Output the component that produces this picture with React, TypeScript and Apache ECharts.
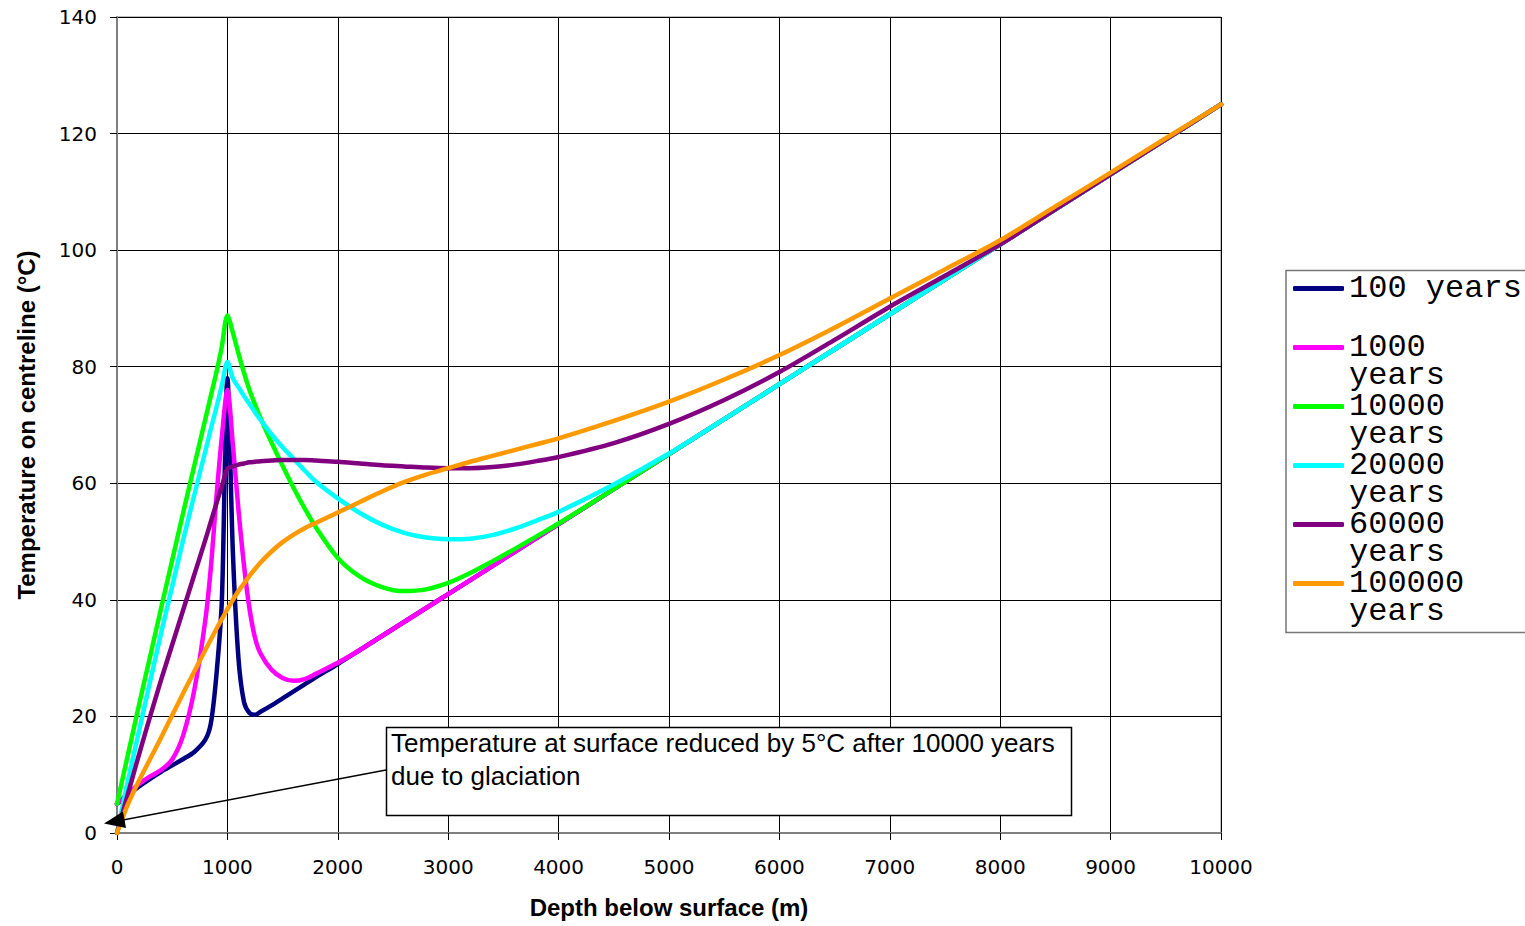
import React, { useEffect, useRef } from 'react';
import * as echarts from 'echarts';

// Depth below surface (m)
const depth = [0, 100, 200, 300, 400, 500, 600, 700, 800, 850, 900, 950, 1000, 1050, 1100, 1150, 1200, 1250, 1300, 1400, 1500, 1600, 1700, 1800, 2000, 2200, 2400, 2600, 2800, 3000, 3200, 3400, 3600, 3800, 4000, 4500, 5000, 5500, 6000, 6500, 7000, 7500, 8000, 8500, 9000, 9500, 10000];

// Temperature on centreline (°C)
const years100 = [5.0, 6.5, 8.0, 9.3, 10.5, 11.6, 12.7, 13.9, 16.0, 18.8, 27.0, 40.0, 78.0, 48.0, 30.0, 22.5, 20.6, 20.3, 20.8, 21.9, 23.1, 24.3, 25.5, 26.7, 29.0, 31.4, 33.8, 36.2, 38.6, 41.0, 43.4, 45.8, 48.2, 50.6, 53.0, 59.0, 65.0, 71.0, 77.0, 83.0, 89.0, 95.0, 101.0, 107.0, 113.0, 119.0, 125.0];
const years1000 = [5.0, 6.8, 8.4, 9.7, 10.8, 12.6, 16.8, 24.5, 36.5, 45.5, 57.5, 68.0, 76.0, 66.5, 55.5, 46.0, 38.5, 33.5, 30.8, 28.0, 26.6, 26.1, 26.4, 27.3, 29.2, 31.4, 33.8, 36.2, 38.6, 41.0, 43.4, 45.8, 48.2, 50.6, 53.0, 59.0, 65.0, 71.0, 77.0, 83.0, 89.0, 95.0, 101.0, 107.0, 113.0, 119.0, 125.0];
const years10000 = [5.0, 13.5, 22.0, 30.3, 38.6, 46.8, 55.0, 63.0, 71.0, 75.0, 79.0, 83.5, 88.8, 85.8, 82.3, 79.0, 76.0, 73.5, 71.2, 67.0, 63.0, 59.2, 55.7, 52.5, 47.2, 44.0, 42.2, 41.5, 41.8, 42.9, 44.6, 46.6, 48.7, 50.9, 53.1, 59.0, 65.0, 71.0, 77.0, 83.0, 89.0, 95.0, 101.0, 107.0, 113.0, 119.0, 125.0];
const years20000 = [0.0, 9.0, 17.5, 26.0, 34.3, 42.3, 50.3, 58.0, 65.5, 69.3, 73.0, 76.8, 80.8, 78.0, 76.5, 75.0, 73.6, 72.2, 70.9, 68.4, 66.2, 64.2, 62.2, 60.3, 57.4, 54.9, 52.9, 51.5, 50.7, 50.4, 50.5, 51.1, 52.2, 53.6, 55.1, 59.8, 65.1, 71.0, 77.0, 83.0, 89.0, 95.0, 101.0, 107.0, 113.0, 119.0, 125.0];
const years60000 = [0.0, 6.8, 13.5, 20.0, 26.3, 32.3, 38.3, 44.3, 50.3, 53.4, 56.5, 59.5, 62.5, 62.9, 63.2, 63.4, 63.6, 63.7, 63.8, 63.9, 64.0, 64.0, 64.0, 63.9, 63.7, 63.4, 63.1, 62.9, 62.7, 62.6, 62.6, 62.8, 63.2, 63.8, 64.5, 66.9, 70.2, 74.3, 79.1, 84.6, 90.3, 95.6, 101.0, 107.0, 113.0, 119.0, 125.0];
const years100000 = [0.0, 5.0, 9.0, 12.7, 16.4, 20.2, 24.0, 27.7, 31.4, 33.2, 35.0, 36.7, 38.4, 40.0, 41.5, 42.8, 44.1, 45.3, 46.4, 48.3, 49.9, 51.2, 52.3, 53.2, 55.0, 56.8, 58.6, 60.2, 61.5, 62.6, 63.7, 64.7, 65.7, 66.7, 67.7, 70.7, 74.0, 77.8, 82.0, 86.7, 91.7, 96.7, 101.7, 107.5, 113.3, 119.2, 125.0];

const seriesNames = ['100 years', '1000 years', '10000 years', '20000 years', '60000 years', '100000 years'];
const seriesColors = ['#000080', '#FF00FF', '#00FF00', '#00FFFF', '#800080', '#FF9900'];
const seriesValues = [years100, years1000, years10000, years20000, years60000, years100000];

const annotationText = 'Temperature at surface reduced by 5°C after 10000 years\ndue to glaciation';

export default function App() {
  const ref = useRef<HTMLDivElement>(null);
  useEffect(() => {
    const chart = echarts.init(ref.current!, null, { renderer: 'svg' });
    const tickFont = { fontFamily: 'DejaVu Sans', fontSize: 20, color: '#000' };
    const nameFont = { fontFamily: 'Liberation Sans', fontWeight: 'bold' as const, fontSize: 24, color: '#000' };
    // every legend entry is a 3-line block whose middle line sits on the icon
    const legendFormatter = (name: string) => {
      if (name.length <= 9) return `\n${name}\n`;
      const parts = name.split(' ');
      return `\n${parts[0]}\n${parts.slice(1).join(' ')}`;
    };
    chart.setOption({
      animation: false,
      backgroundColor: '#fff',
      grid: { left: 117, top: 17, width: 1104, height: 816, show: true, borderColor: '#808080', borderWidth: 1, backgroundColor: 'transparent' },
      xAxis: {
        type: 'value', min: 0, max: 10000, interval: 1000,
        name: 'Depth below surface (m)', nameLocation: 'middle', nameGap: 62, nameTextStyle: nameFont,
        axisLine: { show: true, lineStyle: { color: '#808080', width: 2 } },
        axisTick: { show: true, length: 7, lineStyle: { color: '#000' } },
        axisLabel: { ...tickFont, margin: 24, formatter: (v: number) => String(v) },
        splitLine: { show: true, lineStyle: { color: '#000', width: 1 } },
      },
      yAxis: {
        type: 'value', min: 0, max: 140, interval: 20,
        name: 'Temperature on centreline (°C)', nameLocation: 'middle', nameGap: 79, nameRotate: 90, nameTextStyle: nameFont,
        axisLine: { show: true, lineStyle: { color: '#808080', width: 2 } },
        axisTick: { show: true, length: 7, lineStyle: { color: '#000' } },
        axisLabel: { ...tickFont, margin: 20, formatter: (v: number) => String(v) },
        splitLine: { show: true, lineStyle: { color: '#000', width: 1 } },
      },
      legend: {
        orient: 'vertical', left: 1293, top: 244.4, padding: 0,
        itemWidth: 51, itemHeight: 5, itemGap: -29, selectedMode: false,
        icon: 'roundRect',
        formatter: legendFormatter,
        textStyle: { fontFamily: 'Liberation Mono', fontSize: 32, lineHeight: 28, color: '#000' },
        data: seriesNames,
      },
      series: seriesValues.map((vals, i) => ({
        name: seriesNames[i],
        type: 'line',
        data: depth.map((d, j) => [d, vals[j]]),
        symbol: 'none',
        smooth: 0.3,
        color: seriesColors[i],
        itemStyle: { color: seriesColors[i] },
        lineStyle: { color: seriesColors[i], width: 4.5, cap: 'round', join: 'round' },
        z: 2 + i,
      })),
      graphic: [
        { type: 'rect', z: 0, shape: { x: 1286, y: 270.5, width: 260, height: 362 }, style: { fill: '#fff', stroke: '#777', lineWidth: 1.5 } },
        { type: 'line', z: 100, shape: { x1: 386, y1: 770, x2: 123, y2: 820 }, style: { stroke: '#000', lineWidth: 1.5 } },
        { type: 'polygon', z: 100, shape: { points: [[104, 823.5], [123, 811.5], [126, 828]] }, style: { fill: '#000' } },
        { type: 'rect', z: 100, shape: { x: 386.5, y: 727.5, width: 685, height: 88 }, style: { fill: '#fff', stroke: '#000', lineWidth: 1.5 } },
        { type: 'text', z: 101, x: 391, y: 726, style: { text: annotationText, fontFamily: 'Liberation Sans', fontSize: 26, lineHeight: 33, fill: '#000', verticalAlign: 'top' } },
      ],
    });
    return () => chart.dispose();
  }, []);
  return <div ref={ref} style={{ position: 'fixed', left: 0, top: 0, width: 1525, height: 926, background: '#fff' }} />;
}
